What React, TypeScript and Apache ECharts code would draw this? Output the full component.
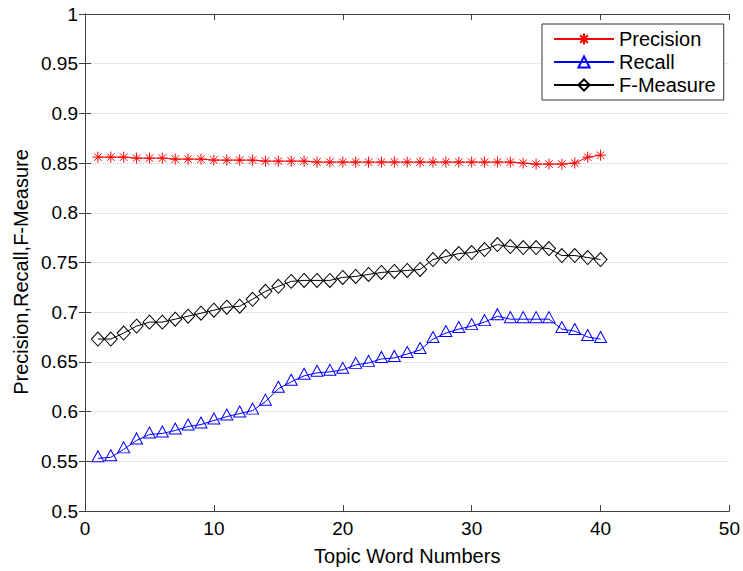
import React, { useEffect, useRef } from "react";
import * as echarts from "echarts";

const topicWordNumbers = Array.from({ length: 40 }, (_, i) => i + 1);

const precision = [
  0.856, 0.856, 0.856, 0.855, 0.855, 0.855, 0.854, 0.854, 0.854, 0.853,
  0.853, 0.853, 0.853, 0.852, 0.852, 0.852, 0.852, 0.851, 0.851, 0.851,
  0.851, 0.851, 0.851, 0.851, 0.851, 0.851, 0.851, 0.851, 0.851, 0.851,
  0.851, 0.851, 0.851, 0.850, 0.849, 0.849, 0.849, 0.850, 0.856, 0.858,
];

const recall = [
  0.553, 0.554, 0.562, 0.571, 0.577, 0.578, 0.581, 0.585, 0.587, 0.591,
  0.595, 0.598, 0.601, 0.61, 0.623, 0.63, 0.636, 0.639, 0.64, 0.642,
  0.647, 0.649, 0.653, 0.654, 0.658, 0.662, 0.673, 0.679, 0.683, 0.686,
  0.69, 0.696, 0.693, 0.693, 0.693, 0.693, 0.683, 0.681, 0.675, 0.673,
];

const fMeasure = [
  0.673, 0.673, 0.679, 0.686, 0.69, 0.69, 0.693, 0.696, 0.699, 0.702,
  0.705, 0.706, 0.713, 0.721, 0.726, 0.731, 0.732, 0.732, 0.732, 0.735,
  0.736, 0.738, 0.74, 0.741, 0.742, 0.743, 0.753, 0.756, 0.759, 0.76,
  0.763, 0.768, 0.766, 0.765, 0.765, 0.764, 0.757, 0.757, 0.755, 0.753,
];

const seriesNames = ["Precision", "Recall", "F-Measure"];
const xTitle = "Topic Word Numbers";
const yTitle = "Precision,Recall,F-Measure";

const FONT = "Liberation Sans, Arial, Helvetica, sans-serif";
const STAR = "path://M5 0L5 10M0 5L10 5M1.6 1.6L8.4 8.4M1.6 8.4L8.4 1.6";

export default function App() {
  const ref = useRef<HTMLDivElement>(null);

  useEffect(() => {
    if (!ref.current) return;
    const chart = echarts.init(ref.current, null, { renderer: "svg" });
    const pair = (ys: number[]) => topicWordNumbers.map((x, i) => [x, ys[i]]);
    const axisLine = { show: true, lineStyle: { color: "#404040", width: 1 } };
    const axisTick = { show: true, inside: true, length: 6, lineStyle: { color: "#404040" } };
    chart.setOption({
      animation: false,
      backgroundColor: "#fff",
      textStyle: { fontFamily: FONT },
      grid: { left: 85, right: 10, top: 14, bottom: 54, containLabel: false },
      legend: {
        orient: "vertical",
        left: 542,
        top: 24,
        padding: [5, 8, 5, 11],
        itemGap: 3,
        itemWidth: 60,
        itemHeight: 14,
        borderColor: "#333",
        borderWidth: 1,
        backgroundColor: "#fff",
        textStyle: { fontSize: 20, color: "#000", fontFamily: FONT },
        data: seriesNames,
      },
      xAxis: [
        {
          type: "value",
          min: 0,
          max: 50,
          interval: 10,
          name: xTitle,
          nameLocation: "middle",
          nameGap: 35,
          nameTextStyle: { fontSize: 20, color: "#000", fontFamily: FONT },
          axisLine,
          axisTick,
          axisLabel: { fontSize: 19, color: "#000", margin: 8, fontFamily: FONT },
          splitLine: { show: false },
        },
        {
          type: "value",
          position: "top",
          min: 0,
          max: 50,
          interval: 10,
          axisLine,
          axisTick,
          axisLabel: { show: false },
          splitLine: { show: false },
        },
      ],
      yAxis: [
        {
          type: "value",
          min: 0.5,
          max: 1,
          interval: 0.05,
          axisLine,
          axisTick,
          axisLabel: { fontSize: 19, color: "#000", margin: 7, fontFamily: FONT },
          splitLine: { show: true, lineStyle: { color: "#d0d0d0", type: "dotted", width: 1 } },
        },
        {
          type: "value",
          position: "right",
          min: 0.5,
          max: 1,
          interval: 0.05,
          axisLine,
          axisTick,
          axisLabel: { show: false },
          splitLine: { show: false },
        },
      ],
      graphic: [
        {
          type: "text",
          x: 21,
          y: 272,
          rotation: Math.PI / 2,
          style: {
            text: yTitle,
            fontSize: 20,
            fontFamily: FONT,
            fill: "#000",
            align: "center",
            verticalAlign: "middle",
          },
        },
      ],
      series: [
        {
          name: seriesNames[0],
          type: "line",
          data: pair(precision),
          symbol: STAR,
          symbolSize: 11,
          symbolKeepAspect: true,
          showAllSymbol: true,
          lineStyle: { color: "#ff0000", width: 1 },
          itemStyle: { color: "rgba(0,0,0,0)", borderColor: "#ff0000", borderWidth: 1 },
          z: 3,
        },
        {
          name: seriesNames[1],
          type: "line",
          data: pair(recall),
          symbol: "triangle",
          symbolSize: [12, 11],
          symbolOffset: [0, -2],
          showAllSymbol: true,
          lineStyle: { color: "#0000ff", width: 1 },
          itemStyle: { color: "rgba(0,0,0,0)", borderColor: "#0000ff", borderWidth: 1 },
          z: 3,
        },
        {
          name: seriesNames[2],
          type: "line",
          data: pair(fMeasure),
          symbol: "diamond",
          symbolSize: [13, 14],
          showAllSymbol: true,
          lineStyle: { color: "#000000", width: 1 },
          itemStyle: { color: "rgba(0,0,0,0)", borderColor: "#000000", borderWidth: 1 },
          z: 3,
        },
      ],
    });
    return () => chart.dispose();
  }, []);

  return (
    <div
      ref={ref}
      style={{ position: "fixed", left: 0, top: 0, width: 743, height: 571, background: "#fff" }}
    />
  );
}
